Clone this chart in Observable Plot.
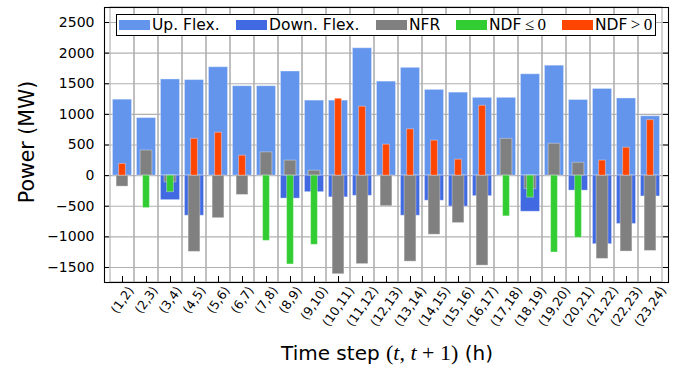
<!DOCTYPE html>
<html>
<head>
<meta charset="utf-8">
<script src="https://cdn.jsdelivr.net/npm/d3@7"></script>
<script src="https://cdn.jsdelivr.net/npm/@observablehq/plot@0.6"></script>
<style>
  html, body { margin: 0; padding: 0; background: white; }
  #wrap { position: relative; width: 696px; height: 369px; font-family: "DejaVu Sans", sans-serif; color: #000; }
  #wrap svg { position: absolute; left: 0; top: 0; }
  .legend { position: absolute; left: 116px; top: 14px; width: 538px; height: 20px; border: 1px solid #000; background: #fff; }
  .sw { position: absolute; top: 5px; width: 31px; height: 10px; }
  .lt { position: absolute; top: 0px; font-size: 15.5px; line-height: 20px; white-space: nowrap; }
  .math { font-family: "Liberation Serif", "DejaVu Serif", serif; font-size: 17px; }
  .ylab { position: absolute; left: 27px; top: 142px; transform: translate(-50%, -50%) rotate(-90deg); font-size: 20.5px; white-space: nowrap; }
  .xlab { position: absolute; left: 387px; top: 353px; transform: translate(-50%, -50%); font-size: 20px; white-space: nowrap; }
  .xlab .math { font-size: 22px; }
</style>
</head>
<body>
<div id="wrap"></div>
<script>
const steps = ["(1,2)","(2,3)","(3,4)","(4,5)","(5,6)","(6,7)","(7,8)","(8,9)","(9,10)","(10,11)","(11,12)","(12,13)","(13,14)","(14,15)","(15,16)","(16,17)","(17,18)","(18,19)","(19,20)","(20,21)","(21,22)","(22,23)","(23,24)"];
const upFlex   = [1240, 940, 1570, 1560, 1770, 1460, 1460, 1700, 1225, 1225, 2080, 1535, 1760, 1400, 1355, 1270, 1270, 1655, 1795, 1235, 1415, 1260, 970];
const downFlex = [0, 0, -400, -655, 0, 0, 0, -375, -270, -355, -330, 0, -655, -410, -505, -335, 0, -590, 0, -245, -1120, -790, -340];
const nfr      = [-180, 410, -110, -1245, -695, -316, 380, 245, 80, -1610, -1445, -500, -1405, -965, -775, -1470, 600, -220, 520, 210, -1360, -1240, -1230];
const ndf      = [190, -530, -270, 600, 700, 325, -1065, -1450, -1130, 1255, 1125, 505, 755, 570, 260, 1140, -665, -360, -1255, -1015, 245, 455, 905];
const yTicks = [-1500, -1000, -500, 0, 500, 1000, 1500, 2000, 2500];
const yDomain = [-1745, 2745];

const colors = {up: "#6495ED", down: "#4169E1", nfr: "#808080", neg: "#32CD32", pos: "#FF4500"};
const grid = "#b0b0b0";

const rows = steps.map((s, i) => ({step: s, up: upFlex[i], down: downFlex[i], nfr: nfr[i], ndf: ndf[i]}));

const W = 696, H = 369, mL = 104, mR = 28, mT = 7, mB = 87;
const fw = W - mL - mR, fh = H - mT - mB;

const edge = {stroke: "white", strokeOpacity: 0.35, strokeWidth: 1};

const g5 = steps.filter(s => s.length === 5);
const g6 = steps.filter(s => s.length === 6);
const g7 = steps.filter(s => s.length === 7);
const xLab = (data, dx) => Plot.axisX(data, {tickSize: 0, tickPadding: 0, tickRotate: -55, textAnchor: "end", lineAnchor: "middle", dx, dy: 5.5, fontSize: 12.5, fill: "#000", label: null});

const chart = Plot.plot({
  width: W, height: H,
  marginLeft: mL, marginRight: mR, marginTop: mT, marginBottom: mB,
  style: {fontFamily: "DejaVu Sans", background: "white", color: "#000", overflow: "visible"},
  x: {type: "band", domain: steps, paddingInner: 0, paddingOuter: 0, axis: null},
  y: {domain: yDomain, axis: null},
  marks: [
    Plot.ruleY(yTicks, {stroke: grid, strokeWidth: 1.1}),
    Plot.barY(steps, {x: d => d, y1: yDomain[0], y2: yDomain[1], fill: "none", stroke: grid, strokeWidth: 1.1}),
    Plot.barY(rows, {x: "step", y: "up", fill: colors.up, insetLeft: 2.45, insetRight: 2.45, ...edge}),
    Plot.barY(rows.filter(d => d.down !== 0), {x: "step", y: "down", fill: colors.down, insetLeft: 2.45, insetRight: 2.45, ...edge}),
    Plot.barY(rows, {x: "step", y: "nfr", fill: colors.nfr, insetLeft: 6.1, insetRight: 6.1, ...edge}),
    Plot.barY(rows, {x: "step", y: "ndf", fill: d => d.ndf <= 0 ? colors.neg : colors.pos, insetLeft: 8.6, insetRight: 8.6, ...edge}),
    Plot.tickY(yTicks, {y: d => d, insetRight: fw - 5, stroke: "#000", strokeWidth: 1}),
    Plot.tickY(yTicks, {y: d => d, insetLeft: fw - 5, stroke: "#000", strokeWidth: 1}),
    Plot.tickX(steps, {x: d => d, insetTop: fh - 6, stroke: "#000", strokeWidth: 1}),
    Plot.frame({stroke: "#000", strokeWidth: 1.1}),
    Plot.axisY(yTicks, {tickSize: 0, tickPadding: 10, tickFormat: d3.format("d"), fontSize: 14, fill: "#000", label: null}),
    xLab(g5, 8.5),
    xLab(g6, 10.8),
    xLab(g7, 13.1)
  ]
});

const wrap = document.getElementById("wrap");
wrap.appendChild(chart);

const legendItems = [
  {c: colors.up,   sx: 119, tx: 152, html: "Up. Flex."},
  {c: colors.down, sx: 236, tx: 269, html: "Down. Flex."},
  {c: colors.nfr,  sx: 376, tx: 409, html: "NFR"},
  {c: colors.neg,  sx: 456, tx: 489, html: 'NDF<span class="math">&thinsp;≤&thinsp;0</span>'},
  {c: colors.pos,  sx: 562, tx: 595, html: 'NDF<span class="math">&thinsp;&gt;&thinsp;0</span>'}
];
const leg = document.createElement("div");
leg.className = "legend";
for (const it of legendItems) {
  const sw = document.createElement("div");
  sw.className = "sw";
  sw.style.left = (it.sx - 117) + "px";
  sw.style.background = it.c;
  leg.appendChild(sw);
  const t = document.createElement("div");
  t.className = "lt";
  t.style.left = (it.tx - 117) + "px";
  t.innerHTML = it.html;
  leg.appendChild(t);
}
wrap.appendChild(leg);

const yl = document.createElement("div");
yl.className = "ylab";
yl.textContent = "Power (MW)";
wrap.appendChild(yl);

const xl = document.createElement("div");
xl.className = "xlab";
xl.innerHTML = 'Time step <span class="math">(<i>t</i>, <i>t</i> + 1)</span> (h)';
wrap.appendChild(xl);
</script>
</body>
</html>
